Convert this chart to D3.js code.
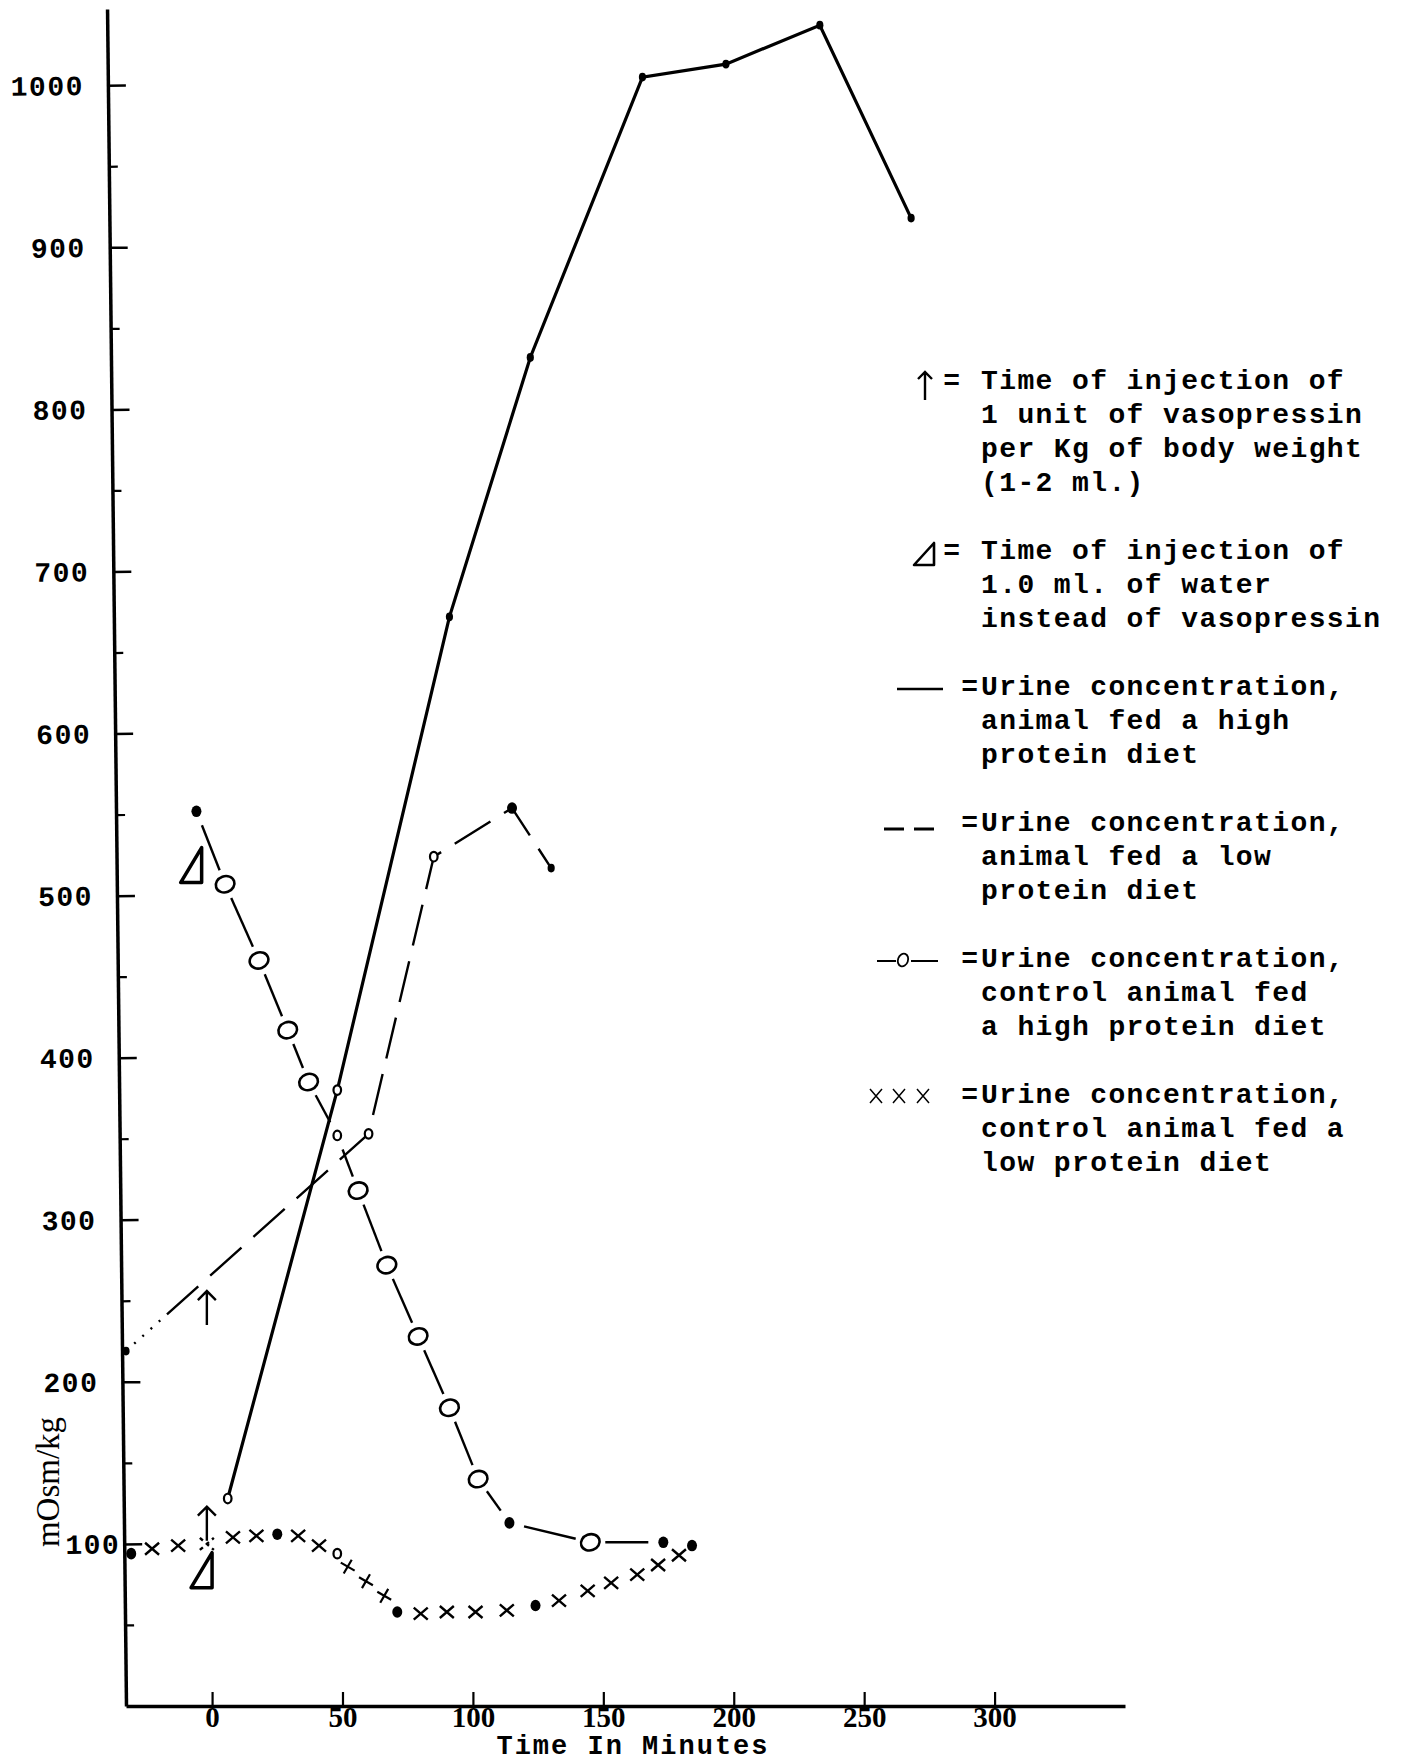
<!DOCTYPE html>
<html>
<head>
<meta charset="utf-8">
<script src="https://cdn.jsdelivr.net/npm/d3@7"></script>
<style>
  body { margin: 0; background: #fff; }
  svg { display: block; }
</style>
</head>
<body>
<script>
// values: time in minutes, urine concentration in mOsm/kg

// animal fed a high protein diet (vasopressin) - solid line
var highTime = [6, 48, 91, 122, 165, 197, 233, 268];
var highConc = [128, 380, 672, 832, 1005, 1013, 1037, 918];
var highMark = ["o", "o", "sdot", "sdot", "sdot", "sdot", "sdot", "sdot"];

// animal fed a low protein diet (vasopressin) - dashed line
var lowTime = [-33, 60, 85, 115, 130];
var lowConc = [219, 353, 524, 554, 517];
var lowMark = ["sdot", "o", "o", "dot", "sdot"];

// control animal, high protein diet - circles joined by broken line
var ctrlHighTime = [-6, 5, 18, 29, 37, 48, 56, 67, 79, 91, 102, 114, 145, 173];
var ctrlHighConc = [552, 507, 460, 417, 385, 352, 318, 272, 228, 184, 140, 113, 101, 101];
var ctrlHighMark = ["dot", "O", "O", "O", "O", "o", "O", "O", "O", "O", "O", "dot", "O", "dot"];

// control animal, low protein diet - crosses
var ctrlLowTime = [-31, -23, -13, -2, 8, 17, 25, 33, 41, 48, 52, 59, 66, 71, 80, 90, 101, 113, 124, 133, 144, 153, 163, 171, 179, 184];
var ctrlLowConc = [94, 97, 99, 100, 104, 105, 106, 105, 99, 94, 86, 77, 68, 58, 57, 58, 58, 59, 62, 65, 71, 76, 81, 87, 93, 99];
var ctrlLowMark = ["dot", "x", "x", "dx", "x", "x", "dot", "x", "x", "o", "plus", "plus", "plus", "dot",
                   "x", "x", "x", "x", "dot", "x", "x", "x", "x", "x", "x", "dot"];

// injection marks
var arrowTime = [-2, -2];
var arrowConc = [256, 123];
var triTime = [-4, 0];
var triConc = [508, 73];

// axes
var xTicks = [0, 50, 100, 150, 200, 250, 300];
var yTicks = [100, 200, 300, 400, 500, 600, 700, 800, 900, 1000];
var yMinor = [50, 150, 250, 350, 450, 550, 650, 750, 850, 950];

// legend
var legendSymbols = ["arrow", "triangle", "solid", "dashed", "circle", "cross"];
var legendLines = [
  ["Time of injection of", "1 unit of vasopressin", "per Kg of body weight", "(1-2 ml.)"],
  ["Time of injection of", "1.0 ml. of water", "instead of vasopressin"],
  ["Urine concentration,", "animal fed a high", "protein diet"],
  ["Urine concentration,", "animal fed a low", "protein diet"],
  ["Urine concentration,", "control animal fed", "a high protein diet"],
  ["Urine concentration,", "control animal fed a", "low protein diet"]
];

var W = 1403, H = 1764;
var MONO = "'Liberation Mono', 'DejaVu Sans Mono', monospace";

var svg = d3.select("body").append("svg")
    .attr("width", W)
    .attr("height", H);
svg.append("rect").attr("width", W).attr("height", H).attr("fill", "#fff");

var x = d3.scaleLinear().domain([-33, 350]).range([126, 1125]);
var y = d3.scaleLinear().domain([0, 1047]).range([1706, 9]);

function zip(ts, vs, ms) {
  return ts.map(function(t, i) { return {t: t, v: vs[i], m: ms[i]}; });
}

// ---- axes ----
var yAxis = svg.append("g")
    .attr("transform", "translate(126,0) rotate(-0.64,0,1706)")
    .call(d3.axisLeft(y).tickValues(yTicks).tickFormat(d3.format("d"))
      .tickSizeInner(-18).tickSizeOuter(0).tickPadding(24));
yAxis.select(".domain").attr("stroke-width", 3.5);
yAxis.selectAll(".tick line").attr("stroke-width", 2.5);
yAxis.selectAll(".tick text")
    .attr("x", function(d) { return d === 100 ? -4 : -24; })
    .attr("font-family", MONO).attr("font-weight", "bold")
    .attr("font-size", 28).attr("letter-spacing", 1.5).attr("fill", "#000");

var yMinorAxis = svg.append("g")
    .attr("transform", "translate(126,0) rotate(-0.64,0,1706)")
    .call(d3.axisLeft(y).tickValues(yMinor).tickSizeInner(-9).tickSizeOuter(0).tickFormat(""));
yMinorAxis.select(".domain").remove();
yMinorAxis.selectAll(".tick line").attr("stroke-width", 2.2);

var xAxis = svg.append("g")
    .attr("transform", "translate(0," + y(0) + ")")
    .call(d3.axisBottom(x).tickValues(xTicks).tickSizeInner(-14).tickSizeOuter(0).tickPadding(0));
xAxis.select(".domain").attr("stroke-width", 3.5);
xAxis.selectAll(".tick line").attr("stroke-width", 2.2);
xAxis.selectAll(".tick text")
    .attr("font-family", "'Liberation Serif', serif").attr("font-weight", "bold")
    .attr("font-size", 29).attr("fill", "#000");

svg.append("text")
    .attr("x", 633).attr("y", 1754)
    .attr("text-anchor", "middle")
    .attr("font-family", MONO).attr("font-weight", "bold")
    .attr("font-size", 27).attr("letter-spacing", 2)
    .text("Time In Minutes");

svg.append("text")
    .attr("transform", "translate(59,1482) rotate(-90)")
    .attr("text-anchor", "middle")
    .attr("font-family", "'Liberation Serif', serif")
    .attr("font-size", 33)
    .text("mOsm/kg");

// ---- markers ----
function drawMark(g, m, cx, cy) {
  if (m === "O") {
    g.append("ellipse").attr("cx", cx).attr("cy", cy).attr("rx", 9.5).attr("ry", 8)
      .attr("transform", "rotate(-20," + cx + "," + cy + ")")
      .attr("fill", "#fff").attr("stroke", "#000").attr("stroke-width", 2.6);
  } else if (m === "o") {
    g.append("ellipse").attr("cx", cx).attr("cy", cy).attr("rx", 3.8).attr("ry", 4.8)
      .attr("fill", "#fff").attr("stroke", "#000").attr("stroke-width", 2.2);
  } else if (m === "dot") {
    g.append("ellipse").attr("cx", cx).attr("cy", cy).attr("rx", 5).attr("ry", 5.8)
      .attr("fill", "#000");
  } else if (m === "sdot") {
    g.append("ellipse").attr("cx", cx).attr("cy", cy).attr("rx", 3.6).attr("ry", 4.4)
      .attr("fill", "#000");
  } else if (m === "x" || m === "dx") {
    g.append("path")
      .attr("d", "M" + (cx - 7) + "," + (cy - 6) + "L" + (cx + 7) + "," + (cy + 6) +
                 "M" + (cx - 7) + "," + (cy + 6) + "L" + (cx + 7) + "," + (cy - 6))
      .attr("stroke", "#000").attr("stroke-width", 2.4).attr("fill", "none")
      .attr("stroke-dasharray", m === "dx" ? "4,4" : null);
  } else if (m === "plus") {
    g.append("path")
      .attr("d", "M" + (cx - 8) + "," + cy + "L" + (cx + 8) + "," + cy +
                 "M" + cx + "," + (cy - 8) + "L" + cx + "," + (cy + 8))
      .attr("transform", "rotate(30," + cx + "," + cy + ")")
      .attr("stroke", "#000").attr("stroke-width", 2.2).attr("fill", "none");
  }
}

var plot = svg.append("g");

// solid line
var high = zip(highTime, highConc, highMark);
var line = d3.line()
    .x(function(d) { return x(d.t); })
    .y(function(d) { return y(d.v); });

plot.append("path")
    .datum(high)
    .attr("d", line)
    .attr("fill", "none").attr("stroke", "#000").attr("stroke-width", 3.2);

// dashed line: starts with a few dots near the axis, then long dashes
var low = zip(lowTime, lowConc, lowMark);
var dashPattern = d3.range(5).map(function() { return "2,9"; })
    .concat(d3.range(24).map(function() { return "42,16"; })).join(",");
plot.append("path")
    .datum(low)
    .attr("d", line)
    .attr("fill", "none").attr("stroke", "#000").attr("stroke-width", 2.4)
    .attr("stroke-dasharray", dashPattern);

// broken line between circles (gaps round each marker)
var ctrlHigh = zip(ctrlHighTime, ctrlHighConc, ctrlHighMark);
var gap = 15;
for (var i = 0; i < ctrlHigh.length - 1; i++) {
  var x0 = x(ctrlHigh[i].t), y0 = y(ctrlHigh[i].v);
  var x1 = x(ctrlHigh[i + 1].t), y1 = y(ctrlHigh[i + 1].v);
  var len = Math.hypot(x1 - x0, y1 - y0);
  var ux = (x1 - x0) / len, uy = (y1 - y0) / len;
  plot.append("line")
      .attr("x1", x0 + ux * gap).attr("y1", y0 + uy * gap)
      .attr("x2", x1 - ux * gap).attr("y2", y1 - uy * gap)
      .attr("stroke", "#000").attr("stroke-width", 2.4);
}

var ctrlLow = zip(ctrlLowTime, ctrlLowConc, ctrlLowMark);

[high, low, ctrlHigh, ctrlLow].forEach(function(series) {
  series.forEach(function(d) { drawMark(plot, d.m, x(d.t), y(d.v)); });
});

// injection arrows and triangles
function drawArrow(g, cx, tip, len, head) {
  g.append("path")
    .attr("d", "M" + cx + "," + (tip + len) + "V" + tip +
               "M" + (cx - head) + "," + (tip + head) + "L" + cx + "," + tip + "L" + (cx + head) + "," + (tip + head))
    .attr("fill", "none").attr("stroke", "#000").attr("stroke-width", 2.4);
}
function drawTriangle(g, rx, by, w, h, sw) {
  g.append("path")
    .attr("d", "M" + rx + "," + (by - h) + "V" + by + "H" + (rx - w) + "Z")
    .attr("fill", "none").attr("stroke", "#000").attr("stroke-width", sw)
    .attr("stroke-linejoin", "round");
}

arrowTime.forEach(function(t, i) { drawArrow(plot, x(t), y(arrowConc[i]), 34, 9); });
triTime.forEach(function(t, i) { drawTriangle(plot, x(t), y(triConc[i]), 21, 35, 3.5); });

// ---- legend ----
var legend = svg.append("g");
var rowStart = 0;
legendLines.forEach(function(lines, i) {
  var cy = 380 + 34 * rowStart;
  var sym = legendSymbols[i];

  if (sym === "arrow") {
    drawArrow(legend, 925, cy - 8, 28, 7);
  } else if (sym === "triangle") {
    drawTriangle(legend, 934, cy + 15, 20, 22, 2.6);
  } else if (sym === "solid") {
    legend.append("line").attr("x1", 897).attr("x2", 943).attr("y1", cy + 3).attr("y2", cy + 3)
      .attr("stroke", "#000").attr("stroke-width", 2.4);
  } else if (sym === "dashed") {
    legend.append("line").attr("x1", 884).attr("x2", 936).attr("y1", cy + 7).attr("y2", cy + 7)
      .attr("stroke", "#000").attr("stroke-width", 3.2).attr("stroke-dasharray", "20,10");
  } else if (sym === "circle") {
    legend.append("line").attr("x1", 877).attr("x2", 896).attr("y1", cy + 3).attr("y2", cy + 3)
      .attr("stroke", "#000").attr("stroke-width", 2);
    legend.append("ellipse").attr("cx", 903).attr("cy", cy + 2).attr("rx", 5).attr("ry", 6.5)
      .attr("transform", "rotate(20,903," + (cy + 2) + ")")
      .attr("fill", "none").attr("stroke", "#000").attr("stroke-width", 1.8);
    legend.append("line").attr("x1", 911).attr("x2", 938).attr("y1", cy + 3).attr("y2", cy + 3)
      .attr("stroke", "#000").attr("stroke-width", 2);
  } else if (sym === "cross") {
    [876, 899, 923].forEach(function(cx) {
      legend.append("path")
        .attr("d", "M" + (cx - 6) + "," + (cy - 5) + "L" + (cx + 6) + "," + (cy + 9) +
                   "M" + (cx - 6) + "," + (cy + 9) + "L" + (cx + 6) + "," + (cy - 5))
        .attr("stroke", "#000").attr("stroke-width", 1.5).attr("fill", "none");
    });
  }

  legend.append("text")
      .attr("x", i < 2 ? 960 : 978).attr("y", cy + 9)
      .attr("text-anchor", "end")
      .attr("font-family", MONO).attr("font-weight", "bold").attr("font-size", 28)
      .text("=");

  lines.forEach(function(txt, j) {
    legend.append("text")
        .attr("x", 981).attr("y", cy + 34 * j + 9)
        .attr("font-family", MONO).attr("font-weight", "bold")
        .attr("font-size", 28).attr("letter-spacing", 1.4)
        .attr("xml:space", "preserve")
        .text(txt);
  });

  rowStart += lines.length + 1;
});
</script>
</body>
</html>
